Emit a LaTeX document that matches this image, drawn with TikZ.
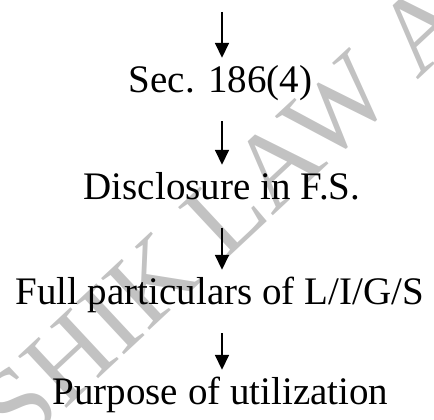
\documentclass[tikz,border=0pt]{standalone}
\usepackage{fontspec}
\setmainfont{Liberation Serif}
\usetikzlibrary{arrows.meta}
\tikzset{
  stage/.style = {anchor=base, font=\fontsize{39}{44}\selectfont, text height=27pt, text depth=20pt, inner ysep=8pt, inner xsep=0pt},
  flow/.style  = {line width=1.7pt, -{Triangle[width=14pt,length=15pt]}},
  wmark/.style = {font=\fontsize{108}{118}\selectfont, text=black!24, rotate=43}
}

\begin{document}
\begin{tikzpicture}[x=1pt,y=1pt]
  \useasboundingbox (0,0) rectangle (434,420);
  % watermark behind everything
  \begin{scope}
    \clip (0,0) rectangle (434,420);
    \node[wmark] (mark) at (224,206) {SHIK LAW A};
  \end{scope}
  \coordinate (top) at (222,408);
  \node[stage] (sec)  at (220.5,327) {Sec. 186(4)};
  \node[stage] (disc) at (222,220)   {Disclosure in F.S.};
  \node[stage] (full) at (219.5,115) {Full particulars of L/I/G/S};
  \node[stage] (purp) at (220.5,15)  {Purpose of utilization};
  \draw[flow] (top) -- (top |- sec.north);
  \draw[flow] (top |- sec.south)  -- (top |- disc.north);
  \draw[flow] (top |- disc.south) -- (top |- full.north);
  \draw[flow] (top |- full.south) -- (top |- purp.north);
\end{tikzpicture}
\end{document}
